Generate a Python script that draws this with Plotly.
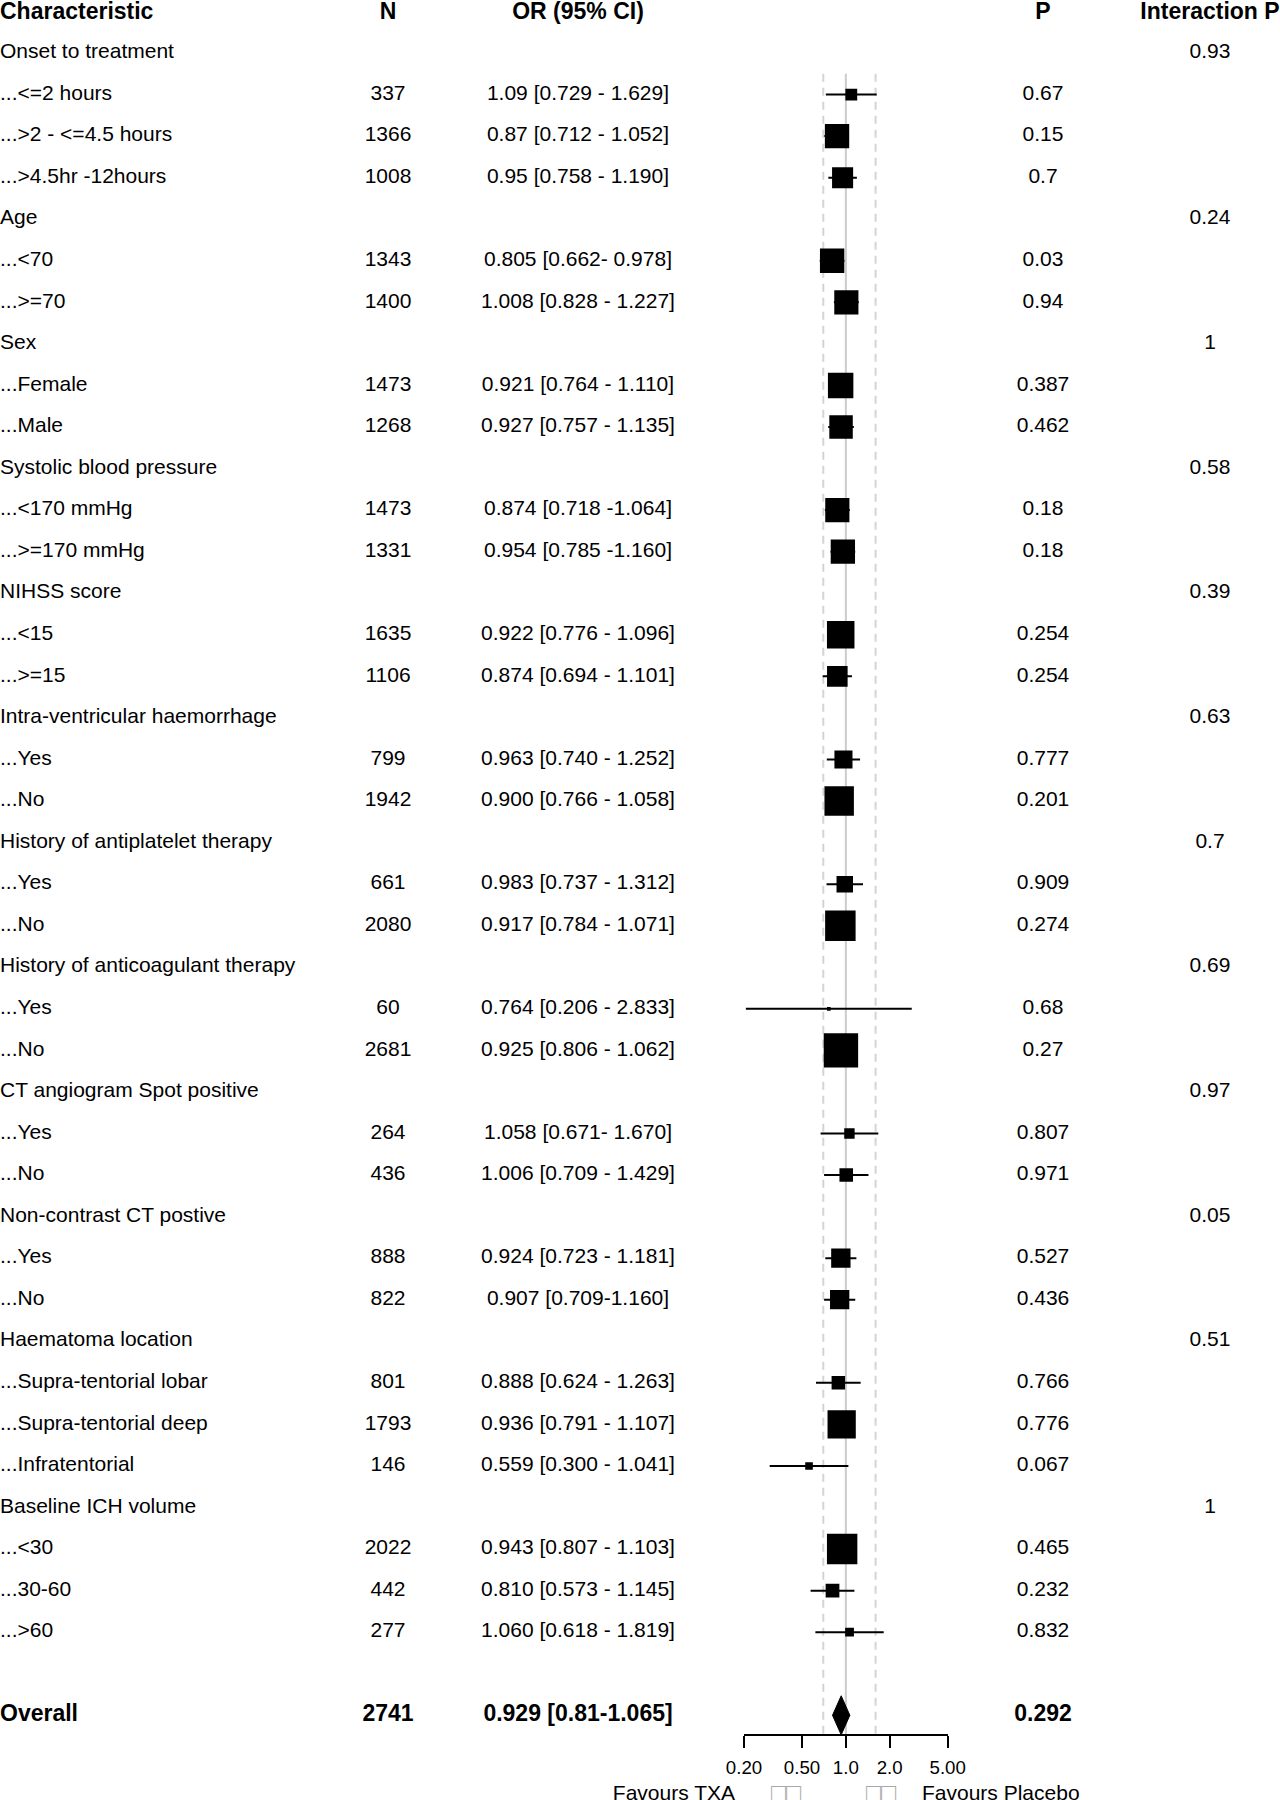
import math
import plotly.graph_objects as go

# subgroup rows of the forest plot
labels = ["Onset to treatment", "...<=2 hours", "...>2 - <=4.5 hours", "...>4.5hr -12hours",
          "Age", "...<70", "...>=70",
          "Sex", "...Female", "...Male",
          "Systolic blood pressure", "...<170 mmHg", "...>=170 mmHg",
          "NIHSS score", "...<15", "...>=15",
          "Intra-ventricular haemorrhage", "...Yes", "...No",
          "History of antiplatelet therapy", "...Yes", "...No",
          "History of anticoagulant therapy", "...Yes", "...No",
          "CT angiogram Spot positive", "...Yes", "...No",
          "Non-contrast CT postive", "...Yes", "...No",
          "Haematoma location", "...Supra-tentorial lobar", "...Supra-tentorial deep", "...Infratentorial",
          "Baseline ICH volume", "...<30", "...30-60", "...>60"]
n_vals = ["", "337", "1366", "1008", "", "1343", "1400", "", "1473", "1268", "", "1473", "1331",
          "", "1635", "1106", "", "799", "1942", "", "661", "2080", "", "60", "2681", "", "264", "436",
          "", "888", "822", "", "801", "1793", "146", "", "2022", "442", "277"]
or_text = ["", "1.09 [0.729 - 1.629]", "0.87 [0.712 - 1.052]", "0.95 [0.758 - 1.190]",
           "", "0.805 [0.662- 0.978]", "1.008 [0.828 - 1.227]",
           "", "0.921 [0.764 - 1.110]", "0.927 [0.757 - 1.135]",
           "", "0.874 [0.718 -1.064]", "0.954 [0.785 -1.160]",
           "", "0.922 [0.776 - 1.096]", "0.874 [0.694 - 1.101]",
           "", "0.963 [0.740 - 1.252]", "0.900 [0.766 - 1.058]",
           "", "0.983 [0.737 - 1.312]", "0.917 [0.784 - 1.071]",
           "", "0.764 [0.206 - 2.833]", "0.925 [0.806 - 1.062]",
           "", "1.058 [0.671- 1.670]", "1.006 [0.709 - 1.429]",
           "", "0.924 [0.723 - 1.181]", "0.907 [0.709-1.160]",
           "", "0.888 [0.624 - 1.263]", "0.936 [0.791 - 1.107]", "0.559 [0.300 - 1.041]",
           "", "0.943 [0.807 - 1.103]", "0.810 [0.573 - 1.145]", "1.060 [0.618 - 1.819]"]
or_est = [None, 1.09, 0.87, 0.95, None, 0.805, 1.008, None, 0.921, 0.927, None, 0.874, 0.954,
          None, 0.922, 0.874, None, 0.963, 0.900, None, 0.983, 0.917, None, 0.764, 0.925,
          None, 1.058, 1.006, None, 0.924, 0.907, None, 0.888, 0.936, 0.559, None, 0.943, 0.810, 1.060]
or_lo = [None, 0.729, 0.712, 0.758, None, 0.662, 0.828, None, 0.764, 0.757, None, 0.718, 0.785,
         None, 0.776, 0.694, None, 0.740, 0.766, None, 0.737, 0.784, None, 0.206, 0.806,
         None, 0.671, 0.709, None, 0.723, 0.709, None, 0.624, 0.791, 0.300, None, 0.807, 0.573, 0.618]
or_hi = [None, 1.629, 1.052, 1.190, None, 0.978, 1.227, None, 1.110, 1.135, None, 1.064, 1.160,
         None, 1.096, 1.101, None, 1.252, 1.058, None, 1.312, 1.071, None, 2.833, 1.062,
         None, 1.670, 1.429, None, 1.181, 1.160, None, 1.263, 1.107, 1.041, None, 1.103, 1.145, 1.819]
p_vals = ["", "0.67", "0.15", "0.7", "", "0.03", "0.94", "", "0.387", "0.462", "", "0.18", "0.18",
          "", "0.254", "0.254", "", "0.777", "0.201", "", "0.909", "0.274", "", "0.68", "0.27",
          "", "0.807", "0.971", "", "0.527", "0.436", "", "0.766", "0.776", "0.067",
          "", "0.465", "0.232", "0.832"]
interaction_p = ["0.93", "", "", "", "0.24", "", "", "1", "", "", "0.58", "", "", "0.39", "", "",
                 "0.63", "", "", "0.7", "", "", "0.69", "", "", "0.97", "", "", "0.05", "", "",
                 "0.51", "", "", "", "1", "", "", ""]

headers = ["Characteristic", "N", "OR (95% CI)", "P", "Interaction P"]

overall_label = "Overall"
overall_n = "2741"
overall_text = "0.929 [0.81-1.065]"
overall_est, overall_lo, overall_hi = 0.929, 0.81, 1.065
overall_p = "0.292"

tick_vals = [0.2, 0.5, 1.0, 2.0, 5.0]
tick_text = ["0.20", "0.50", "1.0", "2.0", "5.00"]
ref_line = 1.0
dashed_lines = [0.7, 1.6]
favours = ["Favours TXA", "□□", "□□", "Favours Placebo"]

# layout helpers (pixel columns, row index)
rows = list(range(len(labels)))
header_row = -0.95
overall_row = len(labels) + 1
axis_row = overall_row + 0.45
bottom_row = overall_row + 1.92
top_row = -1.275
full_bottom_row = overall_row + 2.04
col_x = [0, 388, 578, 1043, 1210]
FONT = "Liberation Sans, Arial, sans-serif"
BODY = 21
BOLD = 23

fig = go.Figure()

# reference lines
fig.add_trace(go.Scatter(x=[ref_line, ref_line], y=[0.5, axis_row], mode="lines",
                         line=dict(color="#cccccc", width=2), hoverinfo="skip"))
for v in dashed_lines:
    fig.add_trace(go.Scatter(x=[v, v], y=[0.5, axis_row], mode="lines",
                             line=dict(color="#d4d4d4", width=2, dash="8px,6px"), hoverinfo="skip"))

# whiskers
wx, wy = [], []
for r, lo, hi in zip(rows, or_lo, or_hi):
    if lo is None:
        continue
    wx += [lo, hi, None]
    wy += [r, r, None]
fig.add_trace(go.Scatter(x=wx, y=wy, mode="lines", line=dict(color="black", width=2),
                         hoverinfo="skip"))

# boxes sized by precision
bx, by, bs = [], [], []
for r, e, lo, hi in zip(rows, or_est, or_lo, or_hi):
    if e is None:
        continue
    bx.append(e)
    by.append(r)
    bs.append(9.5 / math.log(hi / lo))
fig.add_trace(go.Scatter(x=bx, y=by, mode="markers",
                         marker=dict(symbol="square", size=bs, color="black", opacity=1,
                                     line=dict(width=0))))

# overall diamond
h = 0.47
fig.add_trace(go.Scatter(x=[overall_lo, overall_est, overall_hi, overall_est, overall_lo],
                         y=[overall_row, overall_row - h, overall_row, overall_row + h, overall_row],
                         mode="lines", fill="toself", fillcolor="black",
                         line=dict(color="black", width=1), hoverinfo="skip"))

# text columns
columns = [labels, n_vals, or_text, p_vals, interaction_p]
for i, col in enumerate(columns):
    fig.add_trace(go.Scatter(x=[col_x[i]] * len(col), y=rows, mode="text", text=col,
                             textposition="middle right" if i == 0 else "middle center",
                             textfont=dict(family=FONT, size=BODY, color="black"),
                             xaxis="x2", yaxis="y2", cliponaxis=False, hoverinfo="skip"))

bold_rows = [(header_row, headers),
             (overall_row, [overall_label, overall_n, overall_text, overall_p, ""])]
for r, vals in bold_rows:
    for i, t in enumerate(vals):
        fig.add_trace(go.Scatter(x=[col_x[i]], y=[r], mode="text", text=["<b>%s</b>" % t],
                                 textposition="middle right" if i == 0 else "middle center",
                                 textfont=dict(family=FONT, size=BOLD, color="black"),
                                 xaxis="x2", yaxis="y2", cliponaxis=False, hoverinfo="skip"))

# favours labels under the axis
fav_x = [735, 786, 881, 922]
fav_pos = ["middle left", "middle center", "middle center", "middle right"]
fav_col = ["black", "#a8a8a8", "#a8a8a8", "black"]
fav_size = [BODY, 25, 25, BODY]
for t, xp, pos, c, s in zip(favours, fav_x, fav_pos, fav_col, fav_size):
    fig.add_trace(go.Scatter(x=[xp], y=[bottom_row], mode="text", text=[t], textposition=pos,
                             textfont=dict(family=FONT, size=s, color=c),
                             xaxis="x2", yaxis="y2", cliponaxis=False, hoverinfo="skip"))

fig.update_layout(
    template="none",
    width=1280, height=1800,
    margin=dict(l=0, r=0, t=0, b=0, pad=0),
    showlegend=False,
    paper_bgcolor="white",
    plot_bgcolor="rgba(0,0,0,0)",
    font=dict(family=FONT, size=BODY, color="black"),
    xaxis=dict(type="log", range=[math.log10(0.2), math.log10(5)],
               domain=[744 / 1280, 947.7 / 1280], anchor="y", automargin=False,
               showline=True, linecolor="black", linewidth=2,
               ticks="outside", ticklen=12, tickwidth=2, tickcolor="black",
               tickvals=tick_vals, ticktext=tick_text,
               tickfont=dict(family=FONT, size=18.7, color="black"),
               ticklabelstandoff=4,
               showgrid=False, zeroline=False),
    xaxis2=dict(range=[0, 1280], domain=[0, 1], anchor="y2", visible=False, automargin=False),
    yaxis=dict(domain=[66 / 1800, 1], range=[axis_row, top_row], visible=False, automargin=False),
    yaxis2=dict(domain=[0, 1], range=[full_bottom_row, top_row], anchor="x2", visible=False,
                automargin=False),
)

fig.write_html("out.html", config={"displayModeBar": False},
               post_script="document.body.style.margin = '0';")
